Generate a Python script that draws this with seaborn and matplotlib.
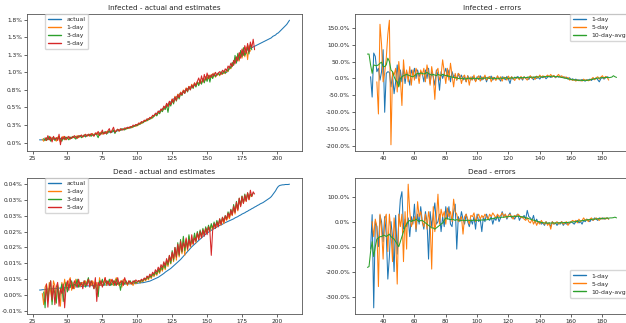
import numpy as np
import pandas as pd
import matplotlib
matplotlib.use("Agg")
import matplotlib.pyplot as plt
from matplotlib.lines import Line2D
import seaborn as sns
from matplotlib.ticker import FuncFormatter, MultipleLocator

# ---------------- data ----------------
# Infected share of population, in percent
inf_actual_start = 30
inf_actual = [0.04,0.04,0.04,0.04,0.04,0.05,0.05,0.05,0.05,0.05,
              0.05,0.05,0.05,0.06,0.06,0.06,0.06,0.06,0.06,0.07,
              0.07,0.07,0.07,0.07,0.08,0.08,0.08,0.08,0.08,0.09,
              0.09,0.09,0.09,0.10,0.10,0.10,0.10,0.11,0.11,0.11,
              0.12,0.12,0.12,0.12,0.13,0.13,0.13,0.14,0.14,0.14,
              0.15,0.15,0.15,0.16,0.16,0.16,0.17,0.17,0.18,0.18,
              0.19,0.19,0.20,0.20,0.21,0.21,0.22,0.23,0.23,0.24,
              0.25,0.26,0.27,0.28,0.29,0.30,0.31,0.32,0.33,0.34,
              0.36,0.37,0.39,0.40,0.42,0.43,0.45,0.46,0.48,0.50,
              0.51,0.53,0.55,0.57,0.58,0.60,0.62,0.64,0.65,0.67,
              0.69,0.70,0.71,0.73,0.74,0.75,0.77,0.78,0.79,0.80,
              0.81,0.82,0.83,0.84,0.85,0.86,0.87,0.88,0.90,0.91,
              0.92,0.93,0.94,0.94,0.95,0.95,0.96,0.96,0.97,0.97,
              0.98,0.98,0.99,0.99,1.00,1.02,1.05,1.08,1.11,1.14,
              1.17,1.20,1.22,1.24,1.26,1.28,1.29,1.30,1.31,1.32,
              1.33,1.34,1.35,1.36,1.37,1.38,1.39,1.40,1.41,1.42,
              1.43,1.44,1.45,1.46,1.47,1.48,1.49,1.51,1.52,1.53,
              1.55,1.56,1.58,1.60,1.62,1.64,1.66,1.68,1.71,1.74]
inf_1day_start = 32
inf_1day = [0.05,0.02,0.06,0.03,0.07,0.04,0.08,0.03,0.06,0.05,
            0.02,0.08,0.05,0.01,0.07,0.09,0.04,0.06,0.08,0.05,
            0.07,0.06,0.09,0.07,0.08,0.10,0.07,0.09,0.10,0.08,
            0.11,0.09,0.10,0.12,0.09,0.11,0.13,0.10,0.12,0.14,
            0.11,0.13,0.15,0.12,0.14,0.13,0.16,0.14,0.17,0.15,
            0.16,0.18,0.15,0.17,0.19,0.16,0.18,0.19,0.18,0.20,
            0.19,0.21,0.20,0.22,0.21,0.23,0.24,0.23,0.26,0.25,
            0.28,0.27,0.29,0.31,0.30,0.33,0.32,0.35,0.34,0.38,
            0.37,0.41,0.39,0.44,0.42,0.47,0.45,0.51,0.48,0.55,
            0.52,0.58,0.55,0.62,0.58,0.66,0.61,0.69,0.66,0.72,
            0.68,0.75,0.71,0.78,0.74,0.80,0.76,0.83,0.79,0.85,
            0.80,0.87,0.82,0.90,0.84,0.91,0.86,0.94,0.89,0.96,
            0.90,0.97,0.92,0.99,0.93,0.96,0.98,0.95,1.00,0.97,
            1.01,0.98,1.03,1.01,1.07,1.05,1.12,1.10,1.20,1.14,
            1.25,1.16,1.30,1.20,1.34,1.22,1.36,1.18,1.38,1.30]
inf_3day_start = 33
inf_3day = [0.06,0.03,0.07,0.04,0.09,0.02,0.06,0.08,0.03,0.07,
            0.05,0.09,0.04,0.02,0.07,0.05,0.08,0.06,0.04,0.08,
            0.06,0.09,0.07,0.05,0.09,0.08,0.10,0.07,0.09,0.11,
            0.08,0.11,0.10,0.12,0.09,0.12,0.10,0.13,0.11,0.07,
            0.14,0.12,0.15,0.13,0.16,0.12,0.15,0.17,0.14,0.16,
            0.18,0.13,0.17,0.19,0.17,0.18,0.20,0.19,0.18,0.21,
            0.20,0.22,0.21,0.23,0.22,0.24,0.25,0.24,0.27,0.26,
            0.29,0.28,0.30,0.32,0.31,0.34,0.33,0.36,0.35,0.38,
            0.40,0.38,0.43,0.41,0.46,0.44,0.49,0.47,0.53,0.43,
            0.56,0.52,0.60,0.55,0.64,0.59,0.67,0.62,0.70,0.67,
            0.73,0.70,0.76,0.72,0.79,0.75,0.81,0.77,0.84,0.79,
            0.86,0.81,0.88,0.83,0.91,0.85,0.93,0.87,0.95,0.86,
            0.96,0.91,0.98,0.94,0.97,0.99,0.96,1.01,0.98,1.02,
            0.99,1.04,1.02,1.08,1.06,1.14,1.10,1.24,1.13,1.27,
            1.18,1.31,1.22,1.35,1.24,1.28,1.37,1.26,1.40,1.32]
inf_5day_start = 34
inf_5day = [0.07,0.03,0.10,0.04,0.08,0.01,0.09,0.05,0.07,0.03,
            0.12,-0.03,0.08,0.05,0.09,0.04,0.07,0.09,0.05,0.08,
            0.07,0.10,0.08,0.06,0.10,0.09,0.11,0.08,0.10,0.12,
            0.09,0.12,0.10,0.13,0.11,0.09,0.14,0.12,0.16,0.10,
            0.13,0.18,0.12,0.15,0.13,0.17,0.20,0.14,0.18,0.22,
            0.15,0.17,0.19,0.17,0.20,0.18,0.19,0.21,0.20,0.22,
            0.21,0.23,0.22,0.25,0.24,0.26,0.25,0.28,0.27,0.30,
            0.29,0.32,0.31,0.34,0.33,0.36,0.35,0.39,0.38,0.42,
            0.40,0.45,0.43,0.48,0.46,0.52,0.49,0.56,0.51,0.59,
            0.54,0.62,0.57,0.65,0.60,0.68,0.64,0.71,0.68,0.74,
            0.70,0.77,0.73,0.80,0.75,0.82,0.78,0.85,0.81,0.87,
            0.92,0.84,0.95,0.86,0.97,0.89,0.99,0.91,0.96,0.93,
            0.98,0.95,1.00,0.96,0.99,1.01,0.97,1.03,1.00,1.05,
            1.02,1.09,1.06,1.13,1.08,1.17,1.12,1.22,1.16,1.28,
            1.20,1.33,1.24,1.38,1.27,1.41,1.29,1.43,1.35,1.47,1.32]

# Dead share of population, in parts per million
dead_actual_start = 30
dead_actual = [16,16,17,17,18,18,19,19,20,20,
               21,21,21,22,22,22,23,23,23,24,
               24,24,25,25,25,26,26,26,27,27,
               27,28,28,28,29,29,29,30,30,30,
               31,31,31,31,31,32,32,32,32,32,
               33,33,33,33,33,34,34,34,34,34,
               35,35,35,35,35,36,36,36,36,37,
               37,38,38,39,39,40,41,42,43,44,
               46,48,50,52,54,56,59,62,65,68,
               72,75,78,81,84,88,92,96,100,104,
               108,112,117,122,127,132,137,142,147,152,
               156,160,164,168,172,176,180,184,188,192,
               195,198,201,204,207,209,212,214,217,219,
               221,223,226,228,230,232,234,236,238,240,
               243,245,247,250,252,255,257,259,262,264,
               267,269,272,274,277,279,282,284,287,289,
               291,294,297,300,303,306,310,316,322,328,
               336,342,345,346,347,347,348,348,348,349]
dead_1day_start = 32
dead_1day = [5,-30,25,35,-10,40,10,-20,45,30,
             -25,35,5,-35,40,15,50,20,30,45,
             55,15,40,20,50,30,45,25,35,40,
             30,45,35,50,40,30,45,35,25,40,
             10,55,30,45,35,55,30,40,35,50,
             40,30,45,55,35,30,45,25,50,35,
             40,30,45,35,40,30,45,35,40,45,
             38,45,42,50,45,55,48,60,52,65,
             58,70,62,78,68,85,75,95,80,105,
             90,115,98,130,105,145,110,155,120,165,
             130,180,125,175,140,185,150,170,160,190,
             165,195,175,200,180,205,190,210,195,215,
             200,220,205,225,210,230,215,235,220,240,
             225,245,235,250,240,260,250,275,255,285,
             265,300,280,310,290,305,295,320,300,315,310]
dead_3day_start = 33
dead_3day = [10,-40,30,-15,20,45,-30,25,5,-25,
             30,-10,15,35,-20,20,40,10,35,25,
             45,20,35,30,50,25,40,35,30,45,
             25,40,55,30,45,35,20,40,15,-5,
             45,35,50,30,40,45,35,50,30,40,
             45,30,50,35,40,15,45,40,35,45,
             35,40,45,35,40,45,38,42,45,40,
             48,44,52,48,58,52,62,56,68,62,
             74,66,82,72,90,80,100,85,110,95,
             125,100,140,110,150,120,165,125,175,135,
             185,140,170,150,190,155,175,165,195,170,
             200,180,205,185,210,190,215,200,220,205,
             225,210,230,215,235,220,240,225,245,235,
             250,240,262,248,270,255,285,262,295,272,
             305,282,312,290,318,298,322,305,318,312,320]
dead_5day_start = 34
dead_5day = [-20,35,-38,20,45,-15,30,-30,25,40,
             -35,20,5,35,-40,25,45,15,50,30,
             20,45,35,25,50,30,40,20,45,35,
             30,50,25,45,35,20,55,-20,40,30,
             45,25,40,55,35,45,30,40,50,35,
             45,30,55,35,40,45,30,55,40,35,
             45,40,35,45,40,48,42,46,44,50,
             46,54,50,60,55,66,60,72,66,80,
             72,88,78,96,86,105,92,115,100,125,
             108,135,115,150,120,160,128,170,138,165,
             150,180,145,175,155,190,160,180,170,195,
             175,200,180,205,185,210,190,215,200,125,
             205,225,210,230,215,240,222,245,230,250,
             238,258,245,268,252,280,260,292,268,305,
             278,310,288,315,295,322,300,330,310,325,318]

# Relative errors, in percent
inf_err1_start = 32
inf_err1 = [5,-55,75,65,20,30,-5,20,85,-100,
            15,20,18,-25,10,-45,-10,40,-20,25,
            -10,30,-15,20,5,-20,25,10,30,0,
            25,5,20,15,-10,25,0,30,-15,20,
            5,-20,25,10,-35,20,0,15,30,5,
            25,-10,20,5,10,-5,15,0,10,-5,
            5,-10,8,0,-5,5,0,-8,5,-3,
            8,-5,3,6,-10,4,0,7,-5,3,
            -3,6,0,-8,5,2,-4,6,-2,-15,
            5,-3,4,0,6,-2,3,-5,5,0,
            4,-3,6,2,-4,5,0,3,-2,5,
            2,6,-1,4,7,3,5,8,2,6,
            4,7,3,5,1,4,-2,2,-4,-1,
            -5,-2,-6,-4,-7,-3,-6,-8,-4,-5,
            -2,-6,0,-3,2,-4,-10,0,3,-2,
            2,5,3]
inf_err5_start = 36
inf_err5 = [-10,-105,160,100,-10,15,60,130,172,-196,
            20,10,30,-40,50,0,-80,55,0,25,
            -10,35,-20,25,-5,30,15,-15,25,10,
            30,-10,40,15,-20,35,5,-62,20,30,
            -5,10,55,20,-15,30,-5,45,10,-25,
            15,-5,15,10,-15,5,10,-10,8,-20,
            5,-5,10,-10,0,8,-8,5,-3,10,
            -5,2,6,-10,4,0,-6,8,-3,5,
            -8,4,2,-5,7,-3,5,0,-6,4,
            2,-4,6,-2,5,0,-5,3,8,0,
            5,-3,7,2,10,4,8,3,6,10,
            5,12,4,9,3,7,12,4,8,2,
            5,0,3,-5,-2,-6,-3,-8,-4,-7,
            -5,-8,-2,-6,-4,-7,-5,-2,3,-4,
            2,5,-2,4,8,0,6,3,-5]
inf_err10_start = 30
inf_err10 = [72,72,40,15,40,38,38,40,45,48,
             35,35,40,60,50,25,20,5,-5,-10,
             -25,0,5,8,10,12,10,8,6,5,
             8,12,15,14,16,15,13,15,18,14,
             12,10,12,10,8,12,10,9,12,10,
             8,9,6,5,4,3,2,2,0,-1,
             0,1,-2,-1,0,1,0,-1,1,0,
             0,-1,0,1,0,1,2,1,0,1,
             0,1,0,-1,0,1,0,1,2,1,
             0,1,2,1,2,3,2,2,3,2,
             3,2,3,4,3,4,3,4,5,4,
             5,4,5,6,5,6,5,6,7,6,
             5,6,5,4,3,2,1,0,-1,-2,
             -3,-4,-4,-5,-5,-6,-5,-6,-6,-5,
             -6,-5,-4,-3,-2,-1,0,1,1,2,
             2,2,3,3,2,3,4,8,5,3]

dead_err1_start = 32
dead_err1 = [-110,28,-345,0,-20,-100,25,0,-80,20,
             -50,-230,-140,0,-60,-200,25,-130,0,90,
             120,-30,10,-20,15,-60,20,-10,70,-40,
             30,-10,60,0,-30,40,0,-150,40,-20,
             30,75,-10,0,30,-40,20,-20,60,10,
             60,-10,-20,40,70,-110,20,0,40,10,
             -10,30,0,-20,10,-10,20,-30,30,0,
             10,-40,20,0,30,10,5,20,-10,15,
             5,25,0,15,40,20,30,10,25,35,
             15,20,10,25,30,5,20,15,25,10,
             45,20,15,5,25,-5,10,-5,0,-10,
             -5,-15,0,-10,-5,-20,0,-10,-5,-15,
             -5,-10,0,-15,-5,-10,-5,-8,0,-5,
             -10,0,5,-5,0,-10,5,0,10,5,
             0,10,5,15,10,5,15,10,15,10,
             12,15,10]
dead_err5_start = 33
dead_err5 = [0,-60,10,-20,-260,30,-30,-150,10,30,
             -120,30,-40,-160,15,-60,-250,30,-20,30,
             -160,40,-110,150,40,-20,0,20,-30,80,
             20,40,0,-20,30,-30,40,0,-190,60,
             -40,10,110,-10,50,20,40,-10,55,20,
             40,0,90,40,30,0,10,20,-50,20,
             30,10,-10,25,20,35,0,20,30,10,
             25,15,30,20,10,30,20,35,25,15,
             30,20,25,35,20,30,15,25,30,20,
             10,25,20,30,25,15,20,10,5,15,
             0,-5,10,-10,5,-15,0,-10,5,-5,
             -10,0,-15,-5,-30,0,-10,-5,0,-10,
             -5,0,-10,-5,0,-15,-5,0,5,0,
             5,-5,10,0,5,15,5,10,0,10,
             15,5,10,15,10,5,15,10,15,10,15,10]
dead_err10_start = 30
dead_err10 = [-183,-180,-120,-80,-140,-100,-70,-65,-60,-60,
              -55,-55,-60,-55,-50,-60,-65,-70,-80,-90,
              -100,-80,-60,-40,-20,-10,0,5,0,5,
              5,10,5,0,5,5,0,-5,-10,-15,
              -20,-25,-25,-30,-25,-20,-15,-10,-5,5,
              15,12,10,8,10,8,5,8,6,5,
              5,6,4,5,6,5,4,5,6,5,
              5,6,5,7,6,8,7,9,10,12,
              12,14,15,16,15,17,18,17,19,20,
              20,21,20,22,21,20,22,21,20,19,
              18,16,14,12,10,8,6,4,2,0,
              -2,-3,-4,-5,-5,-6,-5,-6,-5,-5,
              -6,-5,-5,-4,-5,-4,-3,-4,-3,-2,
              -2,-1,-1,0,1,2,3,4,5,6,
              7,8,8,9,10,10,11,11,12,12,
              13,13,14,14,14,15,15,16,18,15]

# ---------------- plotting ----------------
sns.set_style("ticks")
plt.rcParams["font.family"] = ["DejaVu Sans"]

C = sns.color_palette("tab10")
LW = 0.75


def frame(start, vals, scale):
    days = np.arange(start, start + len(vals))
    return pd.DataFrame({"day": days, "value": np.asarray(vals, float) * scale})


def draw(ax, start, vals, scale, color, label):
    sns.lineplot(data=frame(start, vals, scale), x="day", y="value", ax=ax,
                 color=color, linewidth=LW, label=label, legend=False)


fig = plt.figure(figsize=(6.26, 3.23), dpi=100)
W, H = 626, 323
def axpos(l, t, w, h):
    return fig.add_axes([l / W, (H - t - h) / H, w / W, h / H])

ax_tl = axpos(27, 14, 275, 137)
ax_tr = axpos(355, 14, 274, 137)
ax_bl = axpos(27, 178, 275, 136)
ax_br = axpos(355, 178, 274, 136)

pct = 0.01
ppm = 1e-6
draw(ax_tl, inf_actual_start, inf_actual, pct, C[0], "actual")
draw(ax_tl, inf_1day_start, inf_1day, pct, C[1], "1-day")
draw(ax_tl, inf_3day_start, inf_3day, pct, C[2], "3-day")
draw(ax_tl, inf_5day_start, inf_5day, pct, C[3], "5-day")

draw(ax_bl, dead_actual_start, dead_actual, ppm, C[0], "actual")
draw(ax_bl, dead_1day_start, dead_1day, ppm, C[1], "1-day")
draw(ax_bl, dead_3day_start, dead_3day, ppm, C[2], "3-day")
draw(ax_bl, dead_5day_start, dead_5day, ppm, C[3], "5-day")

draw(ax_tr, inf_err1_start, inf_err1, pct, C[0], "1-day")
draw(ax_tr, inf_err5_start, inf_err5, pct, C[1], "5-day")
draw(ax_tr, inf_err10_start, inf_err10, pct, C[2], "10-day-avg")

draw(ax_br, dead_err1_start, dead_err1, pct, C[0], "1-day")
draw(ax_br, dead_err5_start, dead_err5, pct, C[1], "5-day")
draw(ax_br, dead_err10_start, dead_err10, pct, C[2], "10-day-avg")

ax_tl.set_title("Infected - actual and estimates", fontsize=5.2, pad=3)
ax_tr.set_title("Infected - errors", fontsize=5.2, pad=3)
ax_bl.set_title("Dead - actual and estimates", fontsize=5.2, pad=3)
ax_br.set_title("Dead - errors", fontsize=5.2, pad=3)


def pfmt(decimals):
    def f(v, p):
        r = round(v, 10)
        if r > 0:
            r += 1e-12
        elif r < 0:
            r -= 1e-12
        return "{:.{d}%}".format(r, d=decimals)
    return FuncFormatter(f)


ax_tl.yaxis.set_major_locator(MultipleLocator(0.0025))
ax_tl.yaxis.set_major_formatter(pfmt(1))
ax_bl.yaxis.set_major_locator(MultipleLocator(0.00005))
ax_bl.yaxis.set_major_formatter(pfmt(2))
ax_tr.yaxis.set_major_locator(MultipleLocator(0.5))
ax_tr.yaxis.set_major_formatter(pfmt(1))
ax_br.yaxis.set_major_locator(MultipleLocator(1.0))
ax_br.yaxis.set_major_formatter(pfmt(1))

for ax in (ax_tl, ax_bl):
    ax.xaxis.set_major_locator(MultipleLocator(25))
for ax in (ax_tr, ax_br):
    ax.xaxis.set_major_locator(MultipleLocator(20))

for ax in (ax_tl, ax_tr, ax_bl, ax_br):
    ax.set_xlabel("")
    ax.set_ylabel("")
    ax.tick_params(labelsize=4.2, length=2, width=0.5, pad=1.5)
    for s in ax.spines.values():
        s.set_linewidth(0.6)
        s.set_color("#555555")
    ax.margins(x=0.05, y=0.05)

leg_kw = dict(fontsize=4.4, borderaxespad=0, handlelength=2.2, framealpha=0.8,
              borderpad=0.5, labelspacing=0.45, handletextpad=0.8)


def add_legend(ax, **kw):
    lines = ax.get_lines()
    handles = [Line2D([0], [0], color=l.get_color(), linewidth=1.0) for l in lines]
    labels = [l.get_label() for l in lines]
    ax.legend(handles, labels, **kw, **leg_kw)


add_legend(ax_tl, loc="upper left", bbox_to_anchor=(0.065, 1.0))
add_legend(ax_bl, loc="upper left", bbox_to_anchor=(0.065, 1.0))
add_legend(ax_tr, loc="upper right", bbox_to_anchor=(1.0, 1.0))
add_legend(ax_br, loc="lower right", bbox_to_anchor=(1.0, 0.12))

fig.savefig("out.png", dpi=100)
